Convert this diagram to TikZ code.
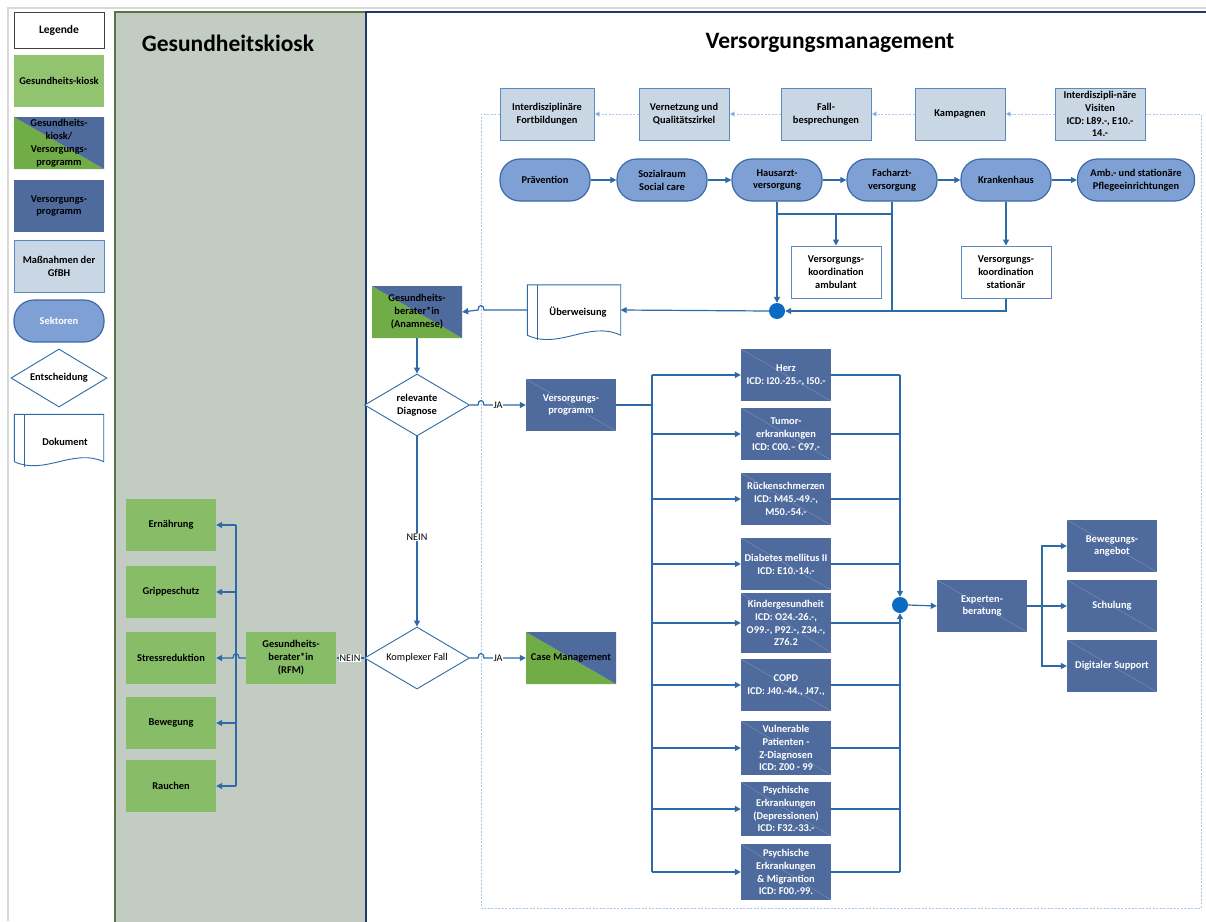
\documentclass[tikz,border=0pt]{standalone}
\usepackage{fontspec}
\setmainfont{Carlito}
\usetikzlibrary{shapes.geometric,arrows.meta,calc}
\definecolor{lanegray}{HTML}{C2CCC2}
\definecolor{laneedge}{HTML}{5A7342}
\definecolor{navy}{HTML}{1F3A68}
\definecolor{lgreen}{HTML}{92C46F}
\definecolor{kgreen}{HTML}{86BD66}
\definecolor{sgreen}{HTML}{70AD47}
\definecolor{vblue}{HTML}{4F6B9E}
\definecolor{gfbhfill}{HTML}{C9D6E4}
\definecolor{gfbhdraw}{HTML}{5B8AC2}
\definecolor{sekfill}{HTML}{7FA0D4}
\definecolor{sekdraw}{HTML}{3C6AA8}
\definecolor{con}{HTML}{2E6AA6}
\definecolor{dotblue}{HTML}{A9C8E8}
\definecolor{dotarrow}{HTML}{4A86C5}
\definecolor{dotcirc}{HTML}{0B6BC2}
\definecolor{pagegray}{HTML}{D9D9D9}
\begin{document}
\begin{tikzpicture}[x=1pt,y=-1pt,
  boxtext/.style={font=\fontsize{10.4}{12.9}\selectfont\bfseries, align=center, inner sep=1pt},
  base/.style={boxtext, minimum width=90pt, minimum height=52pt},
  legkiosk/.style={base, fill=lgreen},
  greenbox/.style={base, fill=kgreen},
  bluebox/.style={base, fill=vblue, text=white,
    path picture={\draw[vblue!75!white, line width=0.4pt] (path picture bounding box.north west) -- (path picture bounding box.south east);}},
  splitbox/.style={base,
    path picture={\fill[sgreen] (path picture bounding box.north west) -- (path picture bounding box.south west) -- (path picture bounding box.south east) -- cycle;
                  \fill[vblue] (path picture bounding box.north west) -- (path picture bounding box.north east) -- (path picture bounding box.south east) -- cycle;}},
  gfbh/.style={base, fill=gfbhfill, draw=gfbhdraw, line width=1pt},
  koord/.style={base, fill=white, draw=gfbhdraw, line width=1pt},
  sektor/.style={base, fill=sekfill, draw=sekdraw, line width=1.2pt, rounded corners=20pt, minimum height=42pt},
  decision/.style={diamond, draw=con, line width=0.9pt, fill=white, aspect=2, inner sep=0pt,
    minimum width=105pt, minimum height=62pt, font=\fontsize{10.4}{12.9}\selectfont\bfseries, align=center},
  conn/.style={draw=con, line width=1.2pt},
  arr/.style={conn, -{Triangle[length=6pt,width=6pt]}},
  dotarr/.style={draw=dotblue, line width=0.9pt, dash pattern=on 2pt off 1.5pt, -{Triangle[length=5pt,width=5pt,fill=dotarrow]}},
  lbl/.style={fill=white, inner sep=1pt, font=\fontsize{10.2}{12}\selectfont},
  junc/.style={circle, fill=dotcirc, inner sep=0pt, minimum size=16pt},
  doctext/.style={boxtext, minimum width=93pt, minimum height=50pt},
  title/.style={font=\fontsize{23.5}{28}\selectfont\bfseries}
]
\useasboundingbox (0,0) rectangle (1206,921);
\fill[white] (0,0) rectangle (1206,921);
% page frame
\draw[pagegray, line width=2pt] (8,921) -- (8,8) -- (1206,8);
% lanes
\fill[lanegray] (115,12) rectangle (365,925);
\draw[laneedge, line width=1.6pt] (115,925) -- (115,12) -- (365,12);
\draw[navy, line width=1.6pt] (366,925) -- (366,12) -- (1206,12);
\node[title] (t1) at (228,43) {Gesundheitskiosk};
\node[title] (t2) at (830,43) {Versorgungsmanagement};

% ---------- legend ----------
\node[base, draw=black!75, line width=1pt, minimum height=36pt, font=\fontsize{11.5}{14}\selectfont\bfseries] (leg) at (59,30) {Legende};
\node[legkiosk] (l1) at (59,81) {Gesundheits-kiosk};
\node[splitbox] (l2) at (59,143) {Gesundheits-\\kiosk/\\Versorgungs-\\programm};
\node[base, fill=vblue] (l3) at (59,206) {Versorgungs-\\programm};
\node[gfbh] (l4) at (59,266) {Maßnahmen der\\GfBH};
\node[sektor, text=white] (l5) at (59,321) {Sektoren};
\node[decision, minimum width=96pt, minimum height=58pt] (l6) at (59,378) {Entscheidung};
\node[doctext, minimum width=89pt, minimum height=47pt] (l7) at (59,438) {};
\draw[con, line width=0.9pt, fill=white] (l7.north west) -- (l7.north east) -- (l7.south east)
   .. controls +(-30,-14) and +(30,14) .. (l7.south west) -- cycle;
\draw[con, line width=0.9pt] ($(l7.north west)+(10,0)$) -- ($(l7.south west)+(10,5)$);
\node[boxtext] (l7t) at (65,442) {Dokument};

% ---------- dotted boundary + GfBH row ----------
\node[gfbh, minimum width=94pt] (fort) at (547,114) {Interdisziplinäre\\Fortbildungen};
\node[gfbh] (vern) at (684,114) {Vernetzung und\\Qualitätszirkel};
\node[gfbh] (fall) at (826,114) {Fall-\\besprechungen};
\node[gfbh] (kamp) at (960,114) {Kampagnen};
\node[gfbh] (visi) at (1100,114) {Interdiszipli-näre\\Visiten\\ICD: L89.-, E10.-\\14.-};
\draw[draw=dotblue, line width=0.9pt, dash pattern=on 2pt off 1.5pt]
  (fort.west) -- (481,114) -- (481,908) -- (1201,908) -- (1201,114) -- (visi.east);
\draw[dotarr] (visi.west) -- (kamp.east);
\draw[dotarr] (kamp.west) -- (fall.east);
\draw[dotarr] (fall.west) -- (vern.east);
\draw[dotarr] (vern.west) -- (fort.east);

% ---------- sector row ----------
\node[sektor] (prae) at (545,180) {Prävention};
\node[sektor] (sozi) at (662,180) {Sozialraum\\Social care};
\node[sektor] (haus) at (777,180) {Hausarzt-\\versorgung};
\node[sektor] (fach) at (892,180) {Facharzt-\\versorgung};
\node[sektor] (kran) at (1006,180) {Krankenhaus};
\node[sektor, minimum width=117pt] (pfle) at (1136,180) {Amb.- und stationäre\\Pflegeeinrichtungen};
\draw[arr] (prae.east) -- (sozi.west);
\draw[arr] (sozi.east) -- (haus.west);
\draw[arr] (haus.east) -- (fach.west);
\draw[arr] (fach.east) -- (kran.west);
\draw[arr] (kran.east) -- (pfle.west);

\node[koord] (amb) at (836,272) {Versorgungs-\\koordination\\ambulant};
\node[koord] (stat) at (1006,272) {Versorgungs-\\koordination\\stationär};
\node[junc] (j1) at (777,311) {};
\coordinate (hz) at (777,214);
\coordinate (fz) at (892,214);
\draw[arr] (haus.south) -- (j1.north);
\draw[conn] (hz) -- (fz);
\draw[conn] (fach.south) -- (fach.south |- j1.east);
\draw[arr] (amb.north |- hz) -- (amb.north);
\draw[arr] (kran.south) -- (stat.north);
\draw[arr] (stat.south) |- (j1.east);

% Überweisung document
\node[doctext] (ueb) at (574,310) {};
\draw[con, line width=0.9pt, fill=white] (ueb.north west) -- (ueb.north east) -- (ueb.south east)
   .. controls +(-32,-15) and +(32,15) .. (ueb.south west) -- cycle;
\draw[con, line width=0.9pt] ($(ueb.north west)+(10,0)$) -- ($(ueb.south west)+(10,5)$);
\node[boxtext] (uebt) at (578,312) {Überweisung};
\draw[arr] (j1.west) -- (ueb.east);

% Gesundheitsberater Anamnese
\node[splitbox] (anam) at (417,312) {Gesundheits-\\berater*in\\(Anamnese)};
\draw[arr] (ueb.west) -- (484,0 |- ueb.west) .. controls +(0,-6) and +(0,-6) .. (478,0 |- ueb.west) -- (anam.east);

% decisions
\node[decision] (dia1) at (417,405) {relevante\\Diagnose};
\node[decision, font=\fontsize{10.4}{12.9}\selectfont] (dia2) at (417,658) {Komplexer Fall};
\draw[arr] (anam.south) -- (dia1.north);
\draw[arr] (dia1.south) -- (dia2.north);
\node[lbl] (nein1) at (417,537) {NEIN};

\node[bluebox] (vprog) at (571,405) {Versorgungs-\\programm};
\node[splitbox] (case) at (571,658) {Case Management};
\draw[arr] (dia1.east) -- (478,0 |- dia1.east) .. controls +(0,-6) and +(0,-6) .. (484,0 |- dia1.east) -- (vprog.west);
\node[lbl] (ja1) at (498,405) {JA};
\draw[arr] (dia2.east) -- (478,0 |- dia2.east) .. controls +(0,-6) and +(0,-6) .. (484,0 |- dia2.east) -- (case.west);
\node[lbl] (ja2) at (498,658) {JA};

% ---------- Gesundheitskiosk lane ----------
\node[greenbox] (rfm) at (291,658) {Gesundheits-\\berater*in\\(RFM)};
\draw[arr] (dia2.west) -- (rfm.east);
\node[lbl] (nein2) at (350,658) {NEIN};
\node[greenbox] (ern) at (171,525) {Ernährung};
\node[greenbox] (gri) at (171,592) {Grippeschutz};
\node[greenbox] (str) at (171,658) {Stressreduktion};
\node[greenbox] (bew) at (171,723) {Bewegung};
\node[greenbox] (rau) at (171,786) {Rauchen};
\coordinate (kt) at (236,525);
\coordinate (kb) at (236,786);
\draw[conn] (kt) -- (kb);
\draw[arr] (kt) -- (ern.east);
\draw[arr] (236,0 |- gri.east) -- (gri.east);
\draw[arr] (236,0 |- bew.east) -- (bew.east);
\draw[arr] (kb) -- (rau.east);
\draw[arr] (rfm.west) -- (239,0 |- rfm.west) .. controls +(0,-6) and +(0,-6) .. (233,0 |- rfm.west) -- (str.east);

% ---------- Versorgungsprogramme ----------
\node[bluebox] (herz) at (786,375) {Herz\\ICD: I20.-25.-, I50.-};
\node[bluebox] (tumo) at (786,434) {Tumor-\\erkrankungen\\ICD: C00.– C97.-};
\node[bluebox] (ruec) at (786,499) {Rückenschmerzen\\ICD: M45.-49.-,\\M50.-54.-};
\node[bluebox] (diab) at (786,564) {Diabetes mellitus II\\ICD: E10.-14.-};
\node[bluebox, minimum height=60pt] (kind) at (786,623) {Kindergesundheit\\ICD: O24.-26.-,\\O99.-, P92.-, Z34.-,\\Z76.2};
\node[bluebox] (copd) at (786,685) {COPD\\ICD: J40.-44., J47.,};
\node[bluebox, minimum height=54pt] (vuln) at (786,748) {Vulnerable\\Patienten -\\Z-Diagnosen\\ICD: Z00 - 99};
\node[bluebox, minimum height=54pt] (depr) at (786,809) {Psychische\\Erkrankungen\\(Depressionen)\\ICD: F32.-33.-};
\node[bluebox, minimum height=56pt] (migr) at (786,872) {Psychische\\Erkrankungen\\\& Migrantion\\ICD: F00.-99.};

\coordinate (lt) at (652,375);
\coordinate (lb) at (652,872);
\draw[conn, line width=2pt] (vprog.east) -- (652,0 |- vprog.east);
\draw[conn] (lt) -- (lb);
\foreach \b in {herz,tumo,ruec,diab,kind,copd,vuln,depr,migr}{
  \draw[arr] (652,0 |- \b.west) -- (\b.west);
  \draw[conn] (\b.east) -- (900,0 |- \b.east);
}
\node[junc] (j2) at (900,605) {};
\draw[arr] (900,0 |- herz.east) -- (j2.north);
\draw[arr] (900,0 |- migr.east) -- (j2.south);

\node[bluebox] (expe) at (982,606) {Experten-\\beratung};
\draw[arr] (j2.east) -- (expe.west);
\node[bluebox] (bewa) at (1112,546) {Bewegungs-\\angebot};
\node[bluebox] (schu) at (1112,606) {Schulung};
\node[bluebox] (digi) at (1112,666) {Digitaler Support};
\draw[conn, line width=2pt] (expe.east) -- (1042,0 |- expe.east);
\draw[arr] (1042,0 |- expe.east) -- (schu.west);
\draw[arr] (1042,0 |- expe.east) |- (bewa.west);
\draw[arr] (1042,0 |- expe.east) |- (digi.west);
\end{tikzpicture}
\end{document}
